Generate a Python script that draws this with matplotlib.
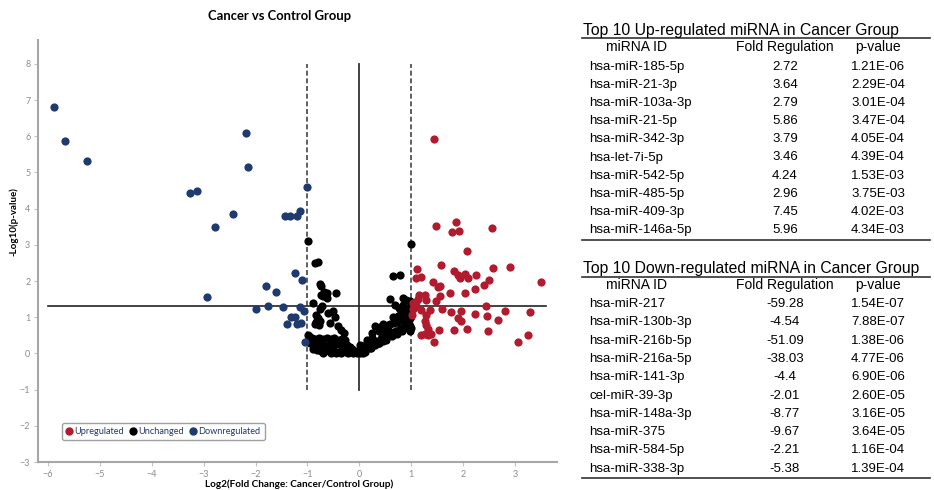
import matplotlib.pyplot as plt
from matplotlib.lines import Line2D

W, H = 934, 490

# ---- volcano data ----
up_x = [1.44, 1.86, 1.48, 2.55, 1.92, 1.79, 2.08, 1.57, 2.90, 2.58,
        1.11, 1.10, 1.19, 1.83, 1.90, 1.93, 2.03, 2.09, 2.25, 3.49,
        2.49, 2.40, 2.22, 2.04, 1.74, 1.42, 1.51, 1.56, 1.56, 1.47,
        1.26, 1.28, 1.13, 1.10, 1.06, 1.03, 1.19, 1.37, 1.60, 1.76,
        1.96, 2.23, 2.44, 2.46, 2.67, 2.81, 3.29, 1.26, 1.29, 1.32,
        1.54, 1.82, 1.90, 1.96, 2.08, 2.47, 1.19, 1.26, 1.32, 1.38,
        1.44, 3.06, 3.24, 1.29, 1.15, 1.04, 1.08, 1.02]
up_y = [5.92, 3.64, 3.52, 3.46, 3.39, 3.36, 2.82, 2.43, 2.40, 2.36,
        2.32, 2.08, 2.11, 2.29, 2.16, 2.08, 2.20, 2.08, 2.16, 1.97,
        2.02, 1.90, 1.79, 1.68, 1.67, 1.97, 1.83, 1.85, 1.59, 1.44,
        1.62, 1.49, 1.51, 1.42, 1.33, 1.24, 1.19, 1.19, 1.24, 1.14,
        1.16, 1.10, 1.31, 1.03, 0.93, 1.16, 1.14, 0.91, 0.78, 0.68,
        0.66, 0.66, 0.98, 0.89, 0.68, 0.61, 0.50, 0.54, 0.50, 0.54,
        0.31, 0.31, 0.50, 1.05, 1.62, 1.40, 1.28, 1.05]

down_x = [-5.89, -2.18, -5.675, -5.25, -2.14, -1.01, -3.13, -3.27, -1.14, -2.43,
          -1.44, -1.34, -1.21, -2.79, -2.93, -2.00, -1.79, -1.75, -1.61, -1.47,
          -1.24, -1.11, -1.14, -1.07, -1.31, -1.24, -1.40, -1.21, -1.13, -1.05]
down_y = [6.81, 6.10, 5.86, 5.32, 5.16, 4.59, 4.50, 4.44, 3.94, 3.86,
          3.81, 3.81, 3.81, 3.48, 1.56, 1.23, 1.85, 1.30, 1.70, 1.27,
          2.22, 2.02, 1.27, 1.17, 1.00, 1.00, 0.80, 0.80, 0.85, 0.31]

nc_x = [-0.99, -0.85, -0.80, -0.76, -0.73, -0.68, -0.63, -0.73, -0.63, -0.70,
        -0.45, -0.89, -0.76, -0.72, -0.83, -0.79, -0.76, -0.83, -0.60, -0.51,
        -0.47, -0.57, -0.41, -0.35, -0.30, -0.96, -0.85, -0.78,
        -0.92, -0.85, -0.78, -0.70, -0.62, -0.55, -0.48, -0.40, -0.33, -0.27,
        -0.95, -0.88, -0.80, -0.72, -0.64, -0.56, -0.48, -0.40, -0.32, -0.24, -0.18,
        -0.90, -0.82, -0.74, -0.66, -0.58, -0.50, -0.42, -0.34, -0.26, -0.18, -0.10,
        -0.70, -0.55, -0.45, -0.35, -0.22, -0.12, -0.05, 0.02, 0.08, -0.28,
        -0.15, -0.05, 0.03, 0.10,
        0.05, 0.10, 0.15, 0.20, 0.22, 0.28, 0.30, 0.35, 0.38, 0.42,
        0.45, 0.50, 0.52, 0.56, 0.60, 0.62, 0.66, 0.70, 0.72, 0.76,
        0.80, 0.83, 0.86, 0.90, 0.93, 0.96, 0.98,
        0.31, 0.40, 0.45, 0.50, 0.55, 0.60, 0.66, 0.72, 0.78, 0.84,
        0.90, 0.95, 0.98, 0.58, 0.48, 0.38, 0.25, 0.44, 0.15, 0.25,
        0.31, 0.38, 0.02, 0.08, 0.15, 0.22,
        0.99, 0.64, 0.78, 0.59, 0.84, 0.89, 0.69, 0.77, 0.85, 0.93,
        0.97, 0.80, 0.90, 0.97, 0.64, 0.74, 0.87, 0.97, 0.97, 0.99,
        -0.97, -0.99, -0.93, -0.88]
nc_y = [3.10, 2.50, 2.54, 1.92, 1.85, 1.71, 1.67, 1.62, 1.53, 1.58,
        1.66, 1.39, 1.24, 1.30, 1.07, 0.98, 0.91, 0.86, 1.12, 1.16,
        1.00, 0.84, 0.75, 0.66, 0.56, 0.47, 0.80, 0.78,
        0.42, 0.40, 0.43, 0.41, 0.44, 0.40, 0.42, 0.38, 0.40, 0.36,
        0.28, 0.24, 0.22, 0.25, 0.21, 0.26, 0.22, 0.25, 0.20, 0.22, 0.18,
        0.12, 0.10, 0.08, 0.12, 0.07, 0.10, 0.05, 0.09, 0.04, 0.08, 0.03,
        0.02, 0.01, 0.00, 0.01, 0.00, 0.01, 0.00, 0.01, 0.00, 0.14,
        0.12, 0.08, 0.06, 0.05,
        0.12, 0.16, 0.20, 0.15, 0.25, 0.30, 0.22, 0.35, 0.28, 0.40,
        0.33, 0.45, 0.38, 0.50, 0.55, 0.47, 0.58, 0.62, 0.55, 0.66,
        0.70, 0.62, 0.74, 0.78, 0.70, 0.82, 0.75,
        0.77, 0.72, 0.80, 0.66, 0.78, 0.82, 0.85, 0.88, 0.92, 0.95,
        1.00, 1.05, 0.98, 0.62, 0.60, 0.61, 0.56, 0.47, 0.38, 0.42,
        0.33, 0.29, 0.24, 0.20, 0.28, 0.15,
        3.02, 2.13, 2.16, 1.51, 1.53, 1.47, 1.35, 1.25, 1.35, 1.25,
        1.44, 1.16, 1.16, 1.16, 1.02, 1.04, 1.07, 0.98, 0.62, 0.70,
        0.40, 0.50, 0.33, 0.30]

# ---- tables ----
up_ids = ["hsa-miR-185-5p", "hsa-miR-21-3p", "hsa-miR-103a-3p", "hsa-miR-21-5p",
          "hsa-miR-342-3p", "hsa-let-7i-5p", "hsa-miR-542-5p", "hsa-miR-485-5p",
          "hsa-miR-409-3p", "hsa-miR-146a-5p"]
up_fold = ["2.72", "3.64", "2.79", "5.86", "3.79", "3.46", "4.24", "2.96", "7.45", "5.96"]
up_p = ["1.21E-06", "2.29E-04", "3.01E-04", "3.47E-04", "4.05E-04",
        "4.39E-04", "1.53E-03", "3.75E-03", "4.02E-03", "4.34E-03"]

down_ids = ["hsa-miR-217", "hsa-miR-130b-3p", "hsa-miR-216b-5p", "hsa-miR-216a-5p",
            "hsa-miR-141-3p", "cel-miR-39-3p", "hsa-miR-148a-3p", "hsa-miR-375",
            "hsa-miR-584-5p", "hsa-miR-338-3p"]
down_fold = ["-59.28", "-4.54", "-51.09", "-38.03", "-4.4", "-2.01", "-8.77", "-9.67", "-2.21", "-5.38"]
down_p = ["1.54E-07", "7.88E-07", "1.38E-06", "4.77E-06", "6.90E-06",
          "2.60E-05", "3.16E-05", "3.64E-05", "1.16E-04", "1.39E-04"]

RED = "#b21a2e"
NAVY = "#1f3a6e"
CF = ["Lato", "DejaVu Sans"]
TF = ["Liberation Sans", "DejaVu Sans"]

fig = plt.figure(figsize=(W / 100, H / 100), dpi=100)
ax = fig.add_axes([38 / W, 1 - 462 / H, (556.6 - 38) / W, (462 - 40.4) / H])

ax.plot([0, 0], [-1, 8], color="#333333", lw=1.3, zorder=1)
ax.plot([-1, -1], [-1, 8], color="#444444", lw=1.2, ls=(0, (3, 1.6)), zorder=1)
ax.plot([1, 1], [-1, 8], color="#444444", lw=1.2, ls=(0, (3, 1.6)), zorder=1)
ax.plot([-6, 3.6], [1.3, 1.3], color="#222222", lw=1.2, zorder=1)

ax.scatter(nc_x, nc_y, s=35, color="black", lw=0, zorder=2)
ax.scatter(down_x, down_y, s=35, color=NAVY, lw=0, zorder=3)
ax.scatter(up_x, up_y, s=35, color=RED, lw=0, zorder=3)

ax.set_xlim(-6.19, 3.8)
ax.set_ylim(-3, 8.65)
ax.set_xticks(range(-6, 4))
ax.set_yticks(range(-3, 9))
for s in ["top", "right"]:
    ax.spines[s].set_visible(False)
for s in ["left", "bottom"]:
    ax.spines[s].set_color("#a6a6a6")
    ax.spines[s].set_linewidth(1.5)
ax.tick_params(labelsize=6.5, labelcolor="#8c8c8c", color="#b8c4d4", length=3, width=0.8, pad=2.5)
for lab in ax.get_xticklabels() + ax.get_yticklabels():
    lab.set_family(CF)

handles = [Line2D([], [], marker="o", ls="", color=c, markersize=5)
           for c in [RED, "black", NAVY]]
leg = ax.legend(handles, ["Upregulated", "Unchanged", "Downregulated"], ncol=3,
                loc="lower left", bbox_to_anchor=(0.046, 0.052), borderaxespad=0,
                prop={"family": CF, "size": 6.6}, handlelength=0.7, handletextpad=0.25,
                columnspacing=0.6, borderpad=0.45, fancybox=True, edgecolor="#a0a0a0",
                framealpha=1)
leg.get_frame().set_linewidth(1.0)
for t in leg.get_texts():
    t.set_color("#1f3864")

fig.text(280 / W, 1 - 16 / H, "Cancer vs Control Group", ha="center", va="center",
         fontsize=9.4, fontweight="bold", family=CF)
fig.text(299 / W, 1 - 484 / H, "Log2(Fold Change: Cancer/Control Group)", ha="center",
         va="center", fontsize=7.2, fontweight="bold", family=CF)
fig.text(14 / W, 1 - 222 / H, "-Log10(p-value)", ha="center", va="center", rotation=90,
         fontsize=7, fontweight="bold", family=CF)


def hline(y, lw):
    fig.add_artist(Line2D([582 / W, 930 / W], [1 - y / H] * 2, color="#333333", lw=lw))


def table(title, ids, folds, pvals, y_title, y_line, y_head, y0, dy, y_bot):
    fig.text(583 / W, 1 - y_title / H, title, ha="left", va="center", fontsize=11.3, family=TF)
    hline(y_line, 1.2)
    fig.text(637 / W, 1 - y_head / H, "miRNA ID", ha="center", va="center", fontsize=10, family=TF)
    fig.text(785 / W, 1 - y_head / H, "Fold Regulation", ha="center", va="center", fontsize=10, family=TF)
    fig.text(878 / W, 1 - y_head / H, "p-value", ha="center", va="center", fontsize=10, family=TF)
    for i, (a, b, c) in enumerate(zip(ids, folds, pvals)):
        y = 1 - (y0 + dy * i) / H
        fig.text(589 / W, y, a, ha="left", va="center", fontsize=9.5, family=TF)
        fig.text(785 / W, y, b, ha="center", va="center", fontsize=9.5, family=TF)
        fig.text(878 / W, y, c, ha="center", va="center", fontsize=9.5, family=TF)
    hline(y_bot, 1.2)


table("Top 10 Up-regulated miRNA in Cancer Group", up_ids, up_fold, up_p,
      30, 38.5, 47, 67, 18.1, 240)
table("Top 10 Down-regulated miRNA in Cancer Group", down_ids, down_fold, down_p,
      268, 276.5, 285, 304, 18.3, 478)

fig.savefig("out.png", dpi=100)
